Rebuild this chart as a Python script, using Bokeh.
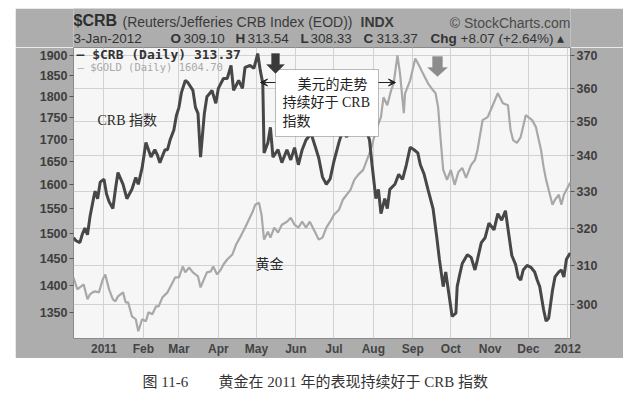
import pandas as pd
from bokeh.plotting import figure
from bokeh.models import (Range1d, LogScale, LogAxis, FixedTicker, NumeralTickFormatter,
                          Grid, Label, BoxAnnotation, Arrow, VeeHead, PolyAnnotation)
from bokeh.layouts import column
from bokeh.embed import file_html
from bokeh.resources import INLINE
from bokeh.core.properties import value

# ---------------- data ----------------
crb_dates = [
    "2010-12-08", "2010-12-10", "2010-12-13", "2010-12-15", "2010-12-17", "2010-12-19",
    "2010-12-21", "2010-12-24", "2010-12-25", "2010-12-27", "2010-12-29", "2011-01-01",
    "2011-01-03", "2011-01-05", "2011-01-08", "2011-01-10", "2011-01-12", "2011-01-16",
    "2011-01-19", "2011-01-23", "2011-01-26", "2011-01-28", "2011-01-31", "2011-02-03",
    "2011-02-07", "2011-02-10", "2011-02-12", "2011-02-14", "2011-02-18", "2011-02-20",
    "2011-02-22", "2011-02-25", "2011-02-27", "2011-03-01", "2011-03-03", "2011-03-06",
    "2011-03-08", "2011-03-12", "2011-03-14", "2011-03-16", "2011-03-18", "2011-03-21",
    "2011-03-23", "2011-03-26", "2011-03-27", "2011-03-30", "2011-04-01", "2011-04-05",
    "2011-04-08", "2011-04-11", "2011-04-13", "2011-04-17", "2011-04-20", "2011-04-22",
    "2011-04-26", "2011-04-29", "2011-05-02", "2011-05-04", "2011-05-06", "2011-05-07",
    "2011-05-10", "2011-05-12", "2011-05-14", "2011-05-18", "2011-05-21", "2011-05-25",
    "2011-05-28", "2011-05-31", "2011-06-03", "2011-06-06", "2011-06-09", "2011-06-13",
    "2011-06-16", "2011-06-19", "2011-06-22", "2011-06-25", "2011-06-28", "2011-07-01",
    "2011-07-05", "2011-07-08", "2011-07-11", "2011-07-14", "2011-07-18", "2011-07-22",
    "2011-07-26", "2011-07-29", "2011-07-31", "2011-08-03", "2011-08-05", "2011-08-07",
    "2011-08-10", "2011-08-12", "2011-08-14", "2011-08-18", "2011-08-21", "2011-08-24",
    "2011-08-27", "2011-08-30", "2011-09-02", "2011-09-05", "2011-09-07", "2011-09-10",
    "2011-09-13", "2011-09-17", "2011-09-20", "2011-09-22", "2011-09-25", "2011-09-27",
    "2011-09-29", "2011-10-02", "2011-10-05", "2011-10-06", "2011-10-08", "2011-10-10",
    "2011-10-14", "2011-10-17", "2011-10-20", "2011-10-22", "2011-10-25", "2011-10-28",
    "2011-10-31", "2011-11-04", "2011-11-07", "2011-11-10", "2011-11-13", "2011-11-16",
    "2011-11-18", "2011-11-21", "2011-11-23", "2011-11-25", "2011-11-27", "2011-11-30",
    "2011-12-03", "2011-12-06", "2011-12-08", "2011-12-10", "2011-12-13", "2011-12-15",
    "2011-12-17", "2011-12-20", "2011-12-22", "2011-12-25", "2011-12-27", "2011-12-29",
    "2011-12-31", "2012-01-03",
]
crb_values = [
    317.4, 316.6, 316.1, 318.4, 320.0, 318.2,
    323.1, 328.5, 330.1, 328.0, 332.6, 333.4,
    329.3, 327.2, 325.3, 330.6, 335.3, 332.0,
    328.0, 330.6, 333.9, 332.0, 336.6, 343.9,
    339.7, 341.8, 340.3, 338.1, 341.8, 341.8,
    344.6, 347.5, 351.8, 354.2, 358.7, 362.3,
    361.7, 359.3, 354.2, 352.4, 339.7, 352.4,
    357.4, 358.7, 359.3, 355.4, 359.9, 362.9,
    362.9, 366.9, 359.3, 362.3, 359.9, 366.3,
    366.9, 366.0, 370.6, 365.4, 361.4, 340.9,
    343.8, 348.3, 339.7, 341.8, 338.1, 341.8,
    338.9, 342.4, 337.5, 341.8, 344.6, 346.5,
    343.0, 339.5, 334.0, 332.0, 333.5, 338.5,
    344.0, 347.5, 345.5, 348.5, 347.0, 350.0,
    348.0, 344.6, 337.5, 328.0, 330.6, 323.9,
    328.0, 325.3, 330.6, 332.0, 334.8, 333.4,
    337.5, 342.5, 341.8, 340.9, 337.5, 334.8,
    330.6, 325.3, 317.4, 311.7, 304.6, 308.4,
    303.8, 297.1, 297.9, 304.6, 307.7, 310.6,
    312.9, 312.2, 308.9, 311.7, 316.1, 317.4,
    321.3, 319.5, 323.9, 322.1, 324.7, 317.4,
    312.7, 310.3, 307.1, 306.3, 308.9, 310.1,
    309.6, 308.4, 306.3, 304.6, 298.8, 295.9,
    296.6, 303.6, 307.1, 308.4, 308.9, 307.1,
    311.7, 313.37,
]

gold_dates = [
    "2010-12-08", "2010-12-11", "2010-12-14", "2010-12-16", "2010-12-19", "2010-12-21",
    "2010-12-23", "2010-12-25", "2010-12-28", "2010-12-31", "2011-01-02", "2011-01-05",
    "2011-01-08", "2011-01-10", "2011-01-12", "2011-01-16", "2011-01-18", "2011-01-20",
    "2011-01-23", "2011-01-26", "2011-01-28", "2011-01-31", "2011-02-03", "2011-02-05",
    "2011-02-08", "2011-02-11", "2011-02-13", "2011-02-16", "2011-02-20", "2011-02-24",
    "2011-02-26", "2011-03-01", "2011-03-04", "2011-03-06", "2011-03-09", "2011-03-12",
    "2011-03-16", "2011-03-18", "2011-03-20", "2011-03-23", "2011-03-26", "2011-03-28",
    "2011-03-31", "2011-04-03", "2011-04-05", "2011-04-08", "2011-04-12", "2011-04-15",
    "2011-04-18", "2011-04-22", "2011-04-25", "2011-04-28", "2011-04-30", "2011-05-03",
    "2011-05-05", "2011-05-07", "2011-05-10", "2011-05-12", "2011-05-15", "2011-05-18",
    "2011-05-21", "2011-05-25", "2011-05-28", "2011-05-31", "2011-06-03", "2011-06-06",
    "2011-06-09", "2011-06-12", "2011-06-16", "2011-06-19", "2011-06-22", "2011-06-25",
    "2011-06-28", "2011-07-01", "2011-07-05", "2011-07-08", "2011-07-11", "2011-07-14",
    "2011-07-17", "2011-07-20", "2011-07-24", "2011-07-27", "2011-07-30", "2011-08-01",
    "2011-08-04", "2011-08-07", "2011-08-09", "2011-08-12", "2011-08-15", "2011-08-17",
    "2011-08-20", "2011-08-22", "2011-08-25", "2011-08-26", "2011-08-30", "2011-09-03",
    "2011-09-06", "2011-09-09", "2011-09-11", "2011-09-13", "2011-09-17", "2011-09-19",
    "2011-09-21", "2011-09-23", "2011-09-25", "2011-09-28", "2011-10-01", "2011-10-04",
    "2011-10-07", "2011-10-10", "2011-10-13", "2011-10-17", "2011-10-20", "2011-10-22",
    "2011-10-26", "2011-10-30", "2011-11-03", "2011-11-07", "2011-11-09", "2011-11-11",
    "2011-11-15", "2011-11-17", "2011-11-19", "2011-11-22", "2011-11-25", "2011-11-29",
    "2011-12-01", "2011-12-04", "2011-12-07", "2011-12-08", "2011-12-11", "2011-12-13",
    "2011-12-15", "2011-12-18", "2011-12-20", "2011-12-22", "2011-12-25", "2011-12-27",
    "2011-12-29", "2012-01-03",
]
gold_values = [
    1414.5, 1392.3, 1397.8, 1401.5, 1374.0, 1383.1,
    1386.8, 1388.6, 1386.8, 1410.8, 1420.2, 1392.3,
    1374.0, 1370.4, 1379.4, 1386.8, 1368.6, 1368.6,
    1343.4, 1338.1, 1317.0, 1338.1, 1334.6, 1350.6,
    1347.0, 1361.3, 1361.3, 1377.6, 1386.8, 1405.2,
    1414.5, 1414.5, 1435.3, 1424.0, 1433.4, 1424.0,
    1416.4, 1396.0, 1407.1, 1424.0, 1425.9, 1435.3,
    1420.2, 1429.6, 1439.1, 1448.7, 1458.3, 1477.7,
    1491.4, 1511.3, 1527.4, 1543.6, 1558.0, 1562.1,
    1537.5, 1487.5, 1503.3, 1491.4, 1511.3, 1501.4,
    1517.3, 1523.3, 1531.4, 1517.3, 1511.3, 1523.3,
    1511.3, 1523.3, 1503.3, 1487.5, 1491.4, 1511.3,
    1523.3, 1537.5, 1547.7, 1568.4, 1578.8, 1589.3,
    1610.4, 1621.1, 1631.9, 1653.6, 1675.7, 1698.0,
    1727.4, 1750.4, 1797.3, 1778.4, 1814.0, 1830.9,
    1900.0, 1855.3, 1759.7, 1806.8, 1838.2, 1892.5,
    1875.0, 1855.3, 1843.1, 1830.9, 1814.0, 1806.8,
    1773.7, 1698.0, 1631.9, 1610.4, 1631.9, 1599.8,
    1627.6, 1636.2, 1614.7, 1642.7, 1653.6, 1675.7,
    1743.5, 1750.4, 1778.4, 1806.8, 1794.9, 1782.9,
    1778.4, 1720.6, 1698.0, 1691.3, 1704.7, 1755.0,
    1750.4, 1743.5, 1727.4, 1713.8, 1675.7, 1638.4,
    1610.4, 1578.8, 1558.0, 1568.4, 1578.8, 1558.0,
    1578.8, 1604.70,
]

month_dates = ["2011-01-01", "2011-02-01", "2011-03-01", "2011-04-01", "2011-05-01",
               "2011-06-01", "2011-07-01", "2011-08-01", "2011-09-01", "2011-10-01",
               "2011-11-01", "2011-12-01", "2012-01-01"]
month_labels = ["2011", "Feb", "Mar", "Apr", "May", "Jun", "Jul", "Aug", "Sep", "Oct",
                "Nov", "Dec", "2012"]
gold_ticks = [1350, 1400, 1450, 1500, 1550, 1600, 1650, 1700, 1750, 1800, 1850, 1900]
crb_ticks = [300, 310, 320, 330, 340, 350, 360, 370]

base = pd.Timestamp("2011-01-01")


def to_days(ds):
    return [int((pd.Timestamp(d) - base).days) for d in ds]


crb_x = to_days(crb_dates)
gold_x = to_days(gold_dates)
month_x = to_days(month_dates)

SANS = "Liberation Sans"
CJK = "'Liberation Serif', 'Noto Sans CJK SC'"
FRAME_GRAY = "#adadad"

# ---------------- header strip (part of the grey chart frame) ----------------
# the column aligns this strip's frame with the chart frame (page x 73..570)
head = figure(width=608, height=39, output_backend="svg", toolbar_location=None,
              title=None, x_range=Range1d(73, 570), y_range=Range1d(0, 39),
              x_axis_location=None, y_axis_location=None, min_border=0,
              outline_line_color=None, background_fill_color=FRAME_GRAY,
              border_fill_color=FRAME_GRAY)
head.grid.visible = False
head.margin = (8, 0, 0, 15)


def htext(x, y, text, size="13.5px", style="normal", color="#333333", align="left"):
    head.text(x=[x], y=[y], text=[text], text_font=value(SANS), text_font_size=size,
              text_font_style=style, text_color=color, text_baseline="middle",
              text_align=align)


htext(73, 27, "$CRB", size="16px", style="bold", color="#2e2e2e")
htext(122, 26, "(Reuters/Jefferies CRB Index (EOD))", size="14px", color="#3a3a3a")
htext(360, 26, "INDX", size="14px", style="bold", color="#3a3a3a")
htext(570, 25, "\u00a9 StockCharts.com", size="14px", color="#4a4a4a", align="right")
htext(73, 9, "3-Jan-2012")
htext(170, 9, "O", style="bold")
htext(183, 9, "309.10")
htext(235, 9, "H", style="bold")
htext(247, 9, "313.54")
htext(300, 9, "L", style="bold")
htext(310, 9, "308.33")
htext(363, 9, "C", style="bold")
htext(376, 9, "313.37")
htext(430, 9, "Chg", style="bold")
htext(460, 9, "+8.07 (+2.64%) \u25b4")

# ---------------- main chart ----------------
p = figure(width=608, height=311, output_backend="svg", toolbar_location=None,
           title=None,
           x_range=Range1d(-24, 367.2), y_range=Range1d(1304.3, 1920.2),
           y_axis_type="log",
           min_border_left=58, min_border_right=53, min_border_top=0, min_border_bottom=19,
           background_fill_color="#f6f6f6", border_fill_color=FRAME_GRAY,
           outline_line_color="#8a8a8a")
p.margin = (0, 0, 0, 15)
p.extra_y_ranges = {"crb": Range1d(291.6, 372.5)}
p.extra_y_scales = {"crb": LogScale()}

left = p.yaxis[0]
left.ticker = FixedTicker(ticks=gold_ticks)
left.formatter = NumeralTickFormatter(format="0")

crb_ticker = FixedTicker(ticks=crb_ticks)
right = LogAxis(y_range_name="crb", ticker=crb_ticker, formatter=NumeralTickFormatter(format="0"))
p.add_layout(right, "right")

for ax in (left, right):
    ax.axis_line_color = None
    ax.major_tick_line_color = "#555555"
    ax.major_tick_out = 4
    ax.major_tick_in = 0
    ax.minor_tick_line_color = None
    ax.major_label_standoff = 2
    ax.major_label_text_font = SANS
    ax.major_label_text_font_size = "12.5px"
    ax.major_label_text_font_style = "bold"
    ax.major_label_text_color = "#3d3d3d"

xa = p.xaxis[0]
xa.ticker = FixedTicker(ticks=month_x)
xa.major_label_overrides = {t: lab for t, lab in zip(month_x, month_labels)}
xa.axis_line_color = None
xa.major_tick_line_color = None
xa.minor_tick_line_color = None
xa.major_tick_out = 0
xa.major_tick_in = 0
xa.major_label_standoff = 3
xa.major_label_text_font = SANS
xa.major_label_text_font_size = "12px"
xa.major_label_text_font_style = "bold"
xa.major_label_text_color = "#444444"

p.xgrid.grid_line_color = "#d2d2d2"
p.ygrid.visible = False
p.add_layout(Grid(dimension=1, ticker=crb_ticker, y_range_name="crb",
                  grid_line_color="#d2d2d2"))

p.line(gold_x, gold_values, line_color="#a8a8a8", line_width=2.2)
p.line(crb_x, crb_values, y_range_name="crb", line_color="#474747", line_width=3)


def lab(x, y, text, size="13px", style="normal", color="#333333", font=SANS, align="left"):
    p.add_layout(Label(x=x, y=y, x_units="screen", y_units="screen", text=text,
                       text_font=font, text_font_size=size, text_font_style=style,
                       text_color=color, text_baseline="middle", text_align=align))


# legend (screen coords relative to the plot frame)
lab(3, 284, "\u2014 $CRB (Daily) 313.37", size="13px", style="bold", color="#333333",
    font="DejaVu Sans Mono")
lab(4, 272, "\u2014 $GOLD (Daily) 1604.70", size="10.5px", color="#a8a8a8",
    font="DejaVu Sans Mono")

# annotations
lab(24, 218, "CRB 指数", size="14px", color="#2a2a2a", font=CJK)
lab(182, 74, "黄金", size="14px", color="#2a2a2a", font=CJK)

p.add_layout(BoxAnnotation(left=202, right=305, bottom=202, top=269,
                           left_units="screen", right_units="screen",
                           bottom_units="screen", top_units="screen",
                           fill_color="white", fill_alpha=1.0,
                           line_color="#222222", line_width=1))
lab(224, 254, "美元的走势", size="14px", color="#222222", font=CJK)
lab(209, 236, "持续好于 CRB", size="14px", color="#222222", font=CJK)
lab(209, 217, "指数", size="14px", color="#222222", font=CJK)

p.add_layout(Arrow(x_start=202, y_start=256, x_end=187, y_end=256,
                   start_units="screen", end_units="screen",
                   line_color="#222222", line_width=1,
                   end=VeeHead(size=7, fill_color="#222222", line_color="#222222")))
p.add_layout(Arrow(x_start=305, y_start=256, x_end=322, y_end=256,
                   start_units="screen", end_units="screen",
                   line_color="#222222", line_width=1,
                   end=VeeHead(size=7, fill_color="#222222", line_color="#222222")))

# thick down arrows
p.add_layout(PolyAnnotation(xs=[198, 206, 206, 211, 202, 193, 198],
                            ys=[285, 285, 274, 274, 265, 274, 274],
                            xs_units="screen", ys_units="screen",
                            fill_color="#3a3a3a", fill_alpha=1.0, line_color="#3a3a3a"))
p.add_layout(PolyAnnotation(xs=[359, 369, 369, 374, 364, 354, 359],
                            ys=[282, 282, 271, 271, 262, 271, 271],
                            xs_units="screen", ys_units="screen",
                            fill_color="#8c8c8c", fill_alpha=1.0, line_color="#8c8c8c"))

# ---------------- caption ----------------
cap = figure(width=608, height=34, output_backend="svg", toolbar_location=None,
             title=None, x_range=Range1d(73, 570), y_range=Range1d(0, 34),
             x_axis_location=None, y_axis_location=None, min_border=0,
             outline_line_color=None, background_fill_color="white",
             border_fill_color="white")
cap.grid.visible = False
cap.margin = (0, 0, 0, 15)
cap.text(x=[142, 218], y=[11, 11], text=["图 11-6", "黄金在 2011 年的表现持续好于 CRB 指数"],
         text_align="left", text_baseline="middle", text_font=value(CJK),
         text_font_size="15px", text_color="#333333")

layout = column(head, p, cap)
open("out.html", "w").write(file_html(layout, INLINE))
